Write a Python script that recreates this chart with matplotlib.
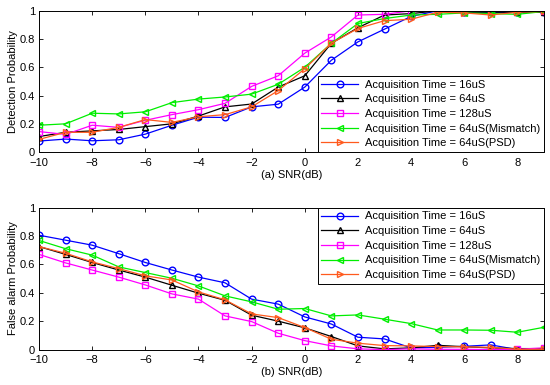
import numpy as np
import matplotlib
matplotlib.use("Agg")
import matplotlib.pyplot as plt

snr = list(range(-10, 10))
labels = ["Acquisition Time = 16uS", "Acquisition Time = 64uS",
          "Acquisition Time = 128uS", "Acquisition Time = 64uS(Mismatch)",
          "Acquisition Time = 64uS(PSD)"]

# (a) detection probability
pd_16 = [0.078, 0.092, 0.08, 0.087, 0.127, 0.19, 0.247, 0.245, 0.32, 0.339,
         0.46, 0.65, 0.78, 0.87, 0.96, 1.0, 0.99, 0.99, 0.99, 0.99]
pd_64 = [0.11, 0.14, 0.15, 0.16, 0.18, 0.2, 0.255, 0.32, 0.34, 0.46,
         0.54, 0.77, 0.88, 0.97, 0.98, 1.0, 0.99, 0.99, 0.99, 0.99]
pd_128 = [0.145, 0.125, 0.19, 0.175, 0.225, 0.265, 0.30, 0.345, 0.465, 0.54,
          0.70, 0.815, 0.97, 0.975, 1.0, 1.0, 1.0, 1.0, 1.0, 0.995]
pd_mis = [0.19, 0.2, 0.275, 0.27, 0.285, 0.35, 0.375, 0.39, 0.41, 0.48,
          0.60, 0.77, 0.91, 0.945, 0.97, 0.975, 0.985, 0.98, 0.975, 0.995]
pd_psd = [0.09, 0.14, 0.14, 0.175, 0.23, 0.21, 0.25, 0.265, 0.32, 0.435,
          0.59, 0.77, 0.875, 0.93, 0.94, 0.99, 0.985, 0.97, 0.99, 0.995]

# (b) false alarm probability
pf_16 = [0.805, 0.77, 0.735, 0.675, 0.613, 0.56, 0.51, 0.47, 0.355, 0.32,
         0.23, 0.18, 0.087, 0.075, 0.012, 0.016, 0.023, 0.033, 0.0, 0.0]
pf_64 = [0.725, 0.67, 0.613, 0.56, 0.51, 0.453, 0.397, 0.347, 0.242, 0.20,
         0.153, 0.092, 0.026, 0.005, 0.012, 0.03, 0.02, 0.012, 0.007, 0.007]
pf_128 = [0.67, 0.61, 0.56, 0.51, 0.455, 0.392, 0.355, 0.237, 0.197, 0.115,
          0.063, 0.026, 0.005, 0.0, 0.005, 0.002, 0.002, 0.0, 0.002, 0.012]
pf_mis = [0.768, 0.71, 0.665, 0.582, 0.542, 0.502, 0.448, 0.378, 0.336, 0.284,
          0.289, 0.237, 0.244, 0.214, 0.183, 0.138, 0.138, 0.136, 0.122, 0.157]
pf_psd = [0.725, 0.678, 0.617, 0.57, 0.519, 0.49, 0.406, 0.35, 0.251, 0.225,
          0.155, 0.073, 0.045, 0.028, 0.026, 0.021, 0.019, 0.016, 0.002, 0.002]

colors = ["#0000ff", "#000000", "#ff00ff", "#00ee00", "#ff5a1e"]
markers = ["o", "^", "s", "<", ">"]

plt.rcParams["font.family"] = ["Liberation Sans", "DejaVu Sans"]
plt.rcParams["font.size"] = 8

fig = plt.figure(figsize=(5.5, 3.85), dpi=100)
ax1 = fig.add_axes([0.071, 0.605, 0.918, 0.367])
ax2 = fig.add_axes([0.071, 0.092, 0.918, 0.369])


def draw(ax, series, ylabel, xlabel, loc):
    for s, c, m, lab in zip(series, colors, markers, labels):
        ax.plot(snr, s, color=c, marker=m, markersize=4.8, markerfacecolor="none",
                markeredgecolor=c, linewidth=0.9, label=lab)
    ax.set_xlim(-10, 9)
    ax.set_ylim(0, 1)
    ax.set_xticks(range(-10, 10, 2))
    ax.set_yticks([0, 0.2, 0.4, 0.6, 0.8, 1])
    ax.set_yticklabels(["0", "0.2", "0.4", "0.6", "0.8", "1"])
    ax.tick_params(direction="in", top=True, right=True, length=3, width=0.6,
                   labelsize=8)
    ax.tick_params(axis="x", pad=4)
    ax.tick_params(axis="y", pad=3)
    for sp in ax.spines.values():
        sp.set_linewidth(0.7)
    ax.set_ylabel(ylabel, labelpad=1)
    ax.set_xlabel(xlabel, labelpad=1)
    ax.xaxis.set_label_coords(0.5, -0.125)
    leg = ax.legend(loc=loc, fancybox=False, edgecolor="black", framealpha=1,
                    borderaxespad=0, handlelength=3.3, labelspacing=0.42,
                    borderpad=0.35, handletextpad=0.6, fontsize=8)
    leg.get_frame().set_linewidth(0.7)


draw(ax1, [pd_16, pd_64, pd_128, pd_mis, pd_psd], "Detection Probability",
     "(a) SNR(dB)", "lower right")
draw(ax2, [pf_16, pf_64, pf_128, pf_mis, pf_psd], "False alarm Probability",
     "(b) SNR(dB)", "upper right")

fig.savefig("out.png", dpi=100)
